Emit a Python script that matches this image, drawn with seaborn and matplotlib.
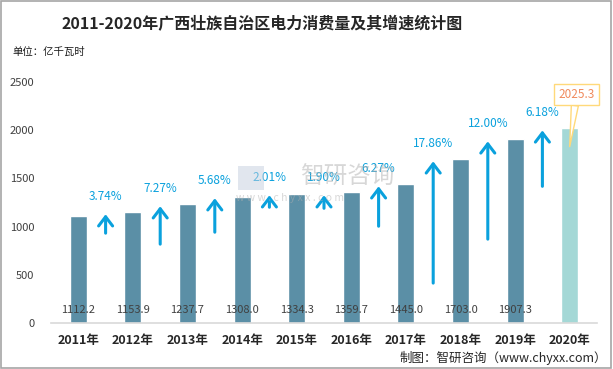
import numpy as np
import pandas as pd
import matplotlib
matplotlib.use("Agg")
import matplotlib.pyplot as plt
import seaborn as sns

# Data
years = ["2011年", "2012年", "2013年", "2014年", "2015年",
         "2016年", "2017年", "2018年", "2019年", "2020年"]
consumption = [1112.2, 1153.9, 1237.7, 1308.0, 1334.3,
               1359.7, 1445.0, 1703.0, 1907.3, 2025.3]
growth_labels = ["3.74%", "7.27%", "5.68%", "2.01%", "1.90%",
                 "6.27%", "17.86%", "12.00%", "6.18%"]
# arrow start / end in axis units, as drawn in the picture
arrow_bottom = [932, 818, 942, 1201, 1190, 1004, 414, 870, 1418]
arrow_top = [1128, 1211, 1294, 1325, 1325, 1418, 1677, 1884, 1998]

bar_colors = ["#5B8FA6"] * 9 + ["#A4D8D6"]
arrow_color = "#0AA1DD"

sns.set_theme(style="white")
plt.rcParams['font.family'] = ['Noto Sans CJK SC', 'DejaVu Sans']

df = pd.DataFrame({"year": years, "value": consumption})

fig = plt.figure(figsize=(6.13, 3.69), dpi=100)
ax = fig.add_axes([51 / 613, 46 / 369, 546 / 613, 241 / 369])

sns.barplot(data=df, x="year", y="value", hue="year", palette=bar_colors,
            legend=False, width=0.31, saturation=1, ax=ax)

ax.set_xlim(-0.5, 9.5)
ax.set_ylim(0, 2500)
ax.set_yticks([0, 500, 1000, 1500, 2000, 2500])
ax.set_xlabel("")
ax.set_ylabel("")
for s in ["top", "right", "left"]:
    ax.spines[s].set_visible(False)
ax.spines["bottom"].set_color("#d9d9d9")
ax.spines["bottom"].set_linewidth(1.2)
ax.tick_params(axis="y", length=0, pad=12, labelsize=8, labelcolor="#404040")
ax.tick_params(axis="x", length=0, pad=8, labelsize=9, labelcolor="#262626")
for lab in ax.get_xticklabels():
    lab.set_fontweight("bold")

# value labels near the bar bottoms
for i, v in enumerate(consumption[:-1]):
    ax.text(i, 135, f"{v:.1f}", ha="center", va="center",
            fontsize=8, color="#404040")

# growth arrows between the bars
for i, lab in enumerate(growth_labels):
    x = i + 0.5
    ax.annotate("", xy=(x, arrow_top[i]), xytext=(x, arrow_bottom[i]),
                arrowprops=dict(arrowstyle="->,head_length=0.55,head_width=0.42",
                                lw=2.2, color=arrow_color, shrinkA=0, shrinkB=0))
    ax.text(x, arrow_top[i] + 185, lab, ha="center", va="center",
            fontsize=8.5, color=arrow_color)

# callout for 2020
ax.annotate("2025.3", xy=(9.0, 1830), xytext=(9.12, 2371),
            ha="center", va="center", fontsize=8.5, color="#F08A5D",
            bbox=dict(boxstyle="square,pad=0.35", fc="white", ec="#FFD97A", lw=1),
            arrowprops=dict(arrowstyle="wedge,tail_width=0.6", fc="white",
                            ec="#FFD97A", lw=1, shrinkA=0, shrinkB=0))

# watermark (faint, behind the marks)
fig.text(300 / 613, 1 - 177 / 369, "智研咨询", ha="left", va="center",
         fontsize=17, color="#b0b0b0", alpha=0.5, zorder=0)
fig.text(236 / 613, 1 - 198 / 369, "w w w . c h y x x . c o m", ha="left",
         va="center", fontsize=7.5, color="#b0b0b0", alpha=0.5, zorder=0)
fig.patches.append(plt.Rectangle((238 / 613, 1 - 190 / 369), 26 / 613, 24 / 369,
                                 transform=fig.transFigure, fc="#c5cfdf",
                                 ec="none", alpha=0.5, zorder=0))

# titles and notes
fig.text(262 / 613, 1 - 24 / 369, "2011-2020年广西壮族自治区电力消费量及其增速统计图",
         ha="center", va="center", fontsize=11.5, fontweight="bold", color="#262626")
fig.text(12 / 613, 1 - 52 / 369, "单位：亿千瓦时", ha="left", va="center",
         fontsize=7.5, color="#1a1a1a")
fig.text(607 / 613, 1 - 358 / 369, "制图：智研咨询（www.chyxx.com）",
         ha="right", va="center", fontsize=9, color="#262626")

# outer border
fig.patches.append(plt.Rectangle((0.002, 0.003), 0.994, 0.994, transform=fig.transFigure,
                                 fill=False, ec="#a6a6a6", lw=1.2))

fig.savefig("out.png", dpi=100)
